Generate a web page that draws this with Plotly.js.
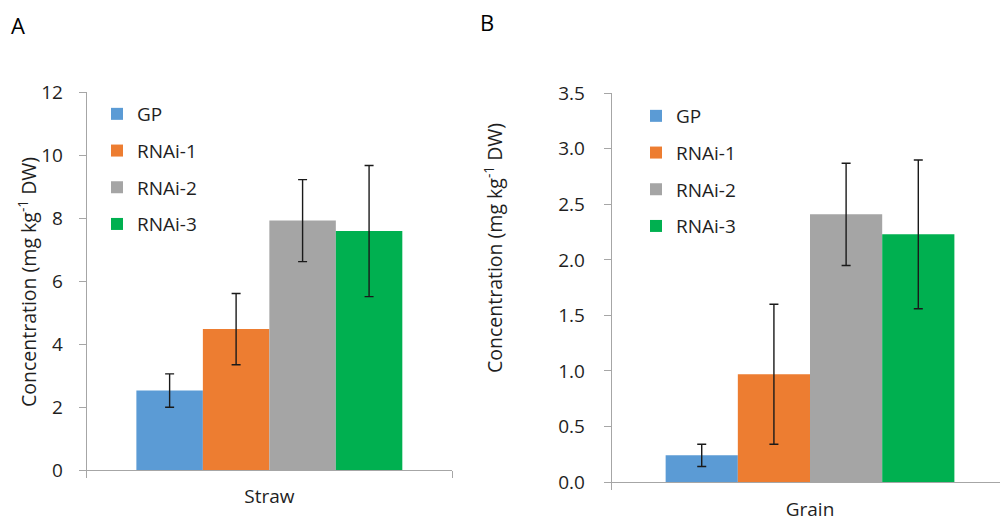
<!DOCTYPE html>
<html>
<head>
<meta charset="utf-8">
<script src="https://cdn.plot.ly/plotly-3.0.1.min.js"></script>
<style>html,body{margin:0;padding:0;background:#fff;overflow:hidden}#chart{width:1000px;height:521px}</style>
</head>
<body>
<div id="chart"></div>
<script>
// ---- data ----
const seriesNames = ['GP', 'RNAi-1', 'RNAi-2', 'RNAi-3'];
const strawCategory = ['Straw'];
const grainCategory = ['Grain'];
const strawValues = [2.53, 4.48, 7.92, 7.59];
const strawErrors = [0.53, 1.13, 1.30, 2.08];
const grainValues = [0.24, 0.97, 2.41, 2.23];
const grainErrors = [0.10, 0.63, 0.46, 0.67];
const strawTicks = [0, 2, 4, 6, 8, 10, 12];
const grainTicks = [0, 0.5, 1.0, 1.5, 2.0, 2.5, 3.0, 3.5];

// ---- styles ----
const colors = ['#5B9BD5', '#ED7D31', '#A5A5A5', '#00B050'];
const FONT = '"Open Sans", Lato, sans-serif';
const TXT = '#1f1f1f';
const AXC = '#A6A6A6';

const traces = [];
seriesNames.forEach((name, i) => {
  traces.push({
    type: 'bar', name: name, x: strawCategory, y: [strawValues[i]],
    xaxis: 'x', yaxis: 'y', legend: 'legend', legendgroup: 'a' + i,
    marker: {color: colors[i], line: {width: 0}},
    error_y: {type: 'data', array: [strawErrors[i]], visible: true, color: '#1a1a1a', thickness: 1.4, width: 4.5},
    hoverinfo: 'y'
  });
});
seriesNames.forEach((name, i) => {
  traces.push({
    type: 'bar', name: name, x: grainCategory, y: [grainValues[i]],
    xaxis: 'x2', yaxis: 'y2', legend: 'legend2', legendgroup: 'b' + i,
    marker: {color: colors[i], line: {width: 0}},
    error_y: {type: 'data', array: [grainErrors[i]], visible: true, color: '#1a1a1a', thickness: 1.4, width: 4.5},
    hoverinfo: 'y'
  });
});

const W = 1000, H = 521;
const px = v => v / W;
const py = v => 1 - v / H;

const yTitle = 'Concentration (mg kg<sup>-1</sup> DW)';

const xCommon = {
  type: 'category', showline: true, linecolor: AXC, linewidth: 1,
  ticks: 'outside', tickson: 'boundaries', ticklen: 7, tickcolor: AXC, tickwidth: 1,
  showgrid: false, zeroline: false, fixedrange: true,
  tickfont: {family: FONT, size: 19, color: TXT}
};
const yCommon = {
  showline: true, linecolor: AXC, linewidth: 1,
  ticks: 'outside', ticklen: 7, tickcolor: AXC, tickwidth: 1,
  showgrid: false, zeroline: false, fixedrange: true,
  tickfont: {family: FONT, size: 19, color: TXT}
};

const legendCommon = {
  font: {family: FONT, size: 19, color: TXT},
  bgcolor: 'rgba(0,0,0,0)', borderwidth: 0,
  xanchor: 'left', yanchor: 'top', tracegroupgap: 9,
  traceorder: 'grouped', itemclick: false, itemdoubleclick: false
};

const layout = {
  width: W, height: H,
  margin: {l: 0, r: 0, t: 0, b: 0},
  paper_bgcolor: '#fff', plot_bgcolor: '#fff',
  font: {family: FONT, color: TXT},
  barmode: 'group', bargap: 0.272, bargroupgap: 0,
  showlegend: true,
  xaxis: Object.assign({}, xCommon, {domain: [px(86.7), px(452)], range: [-0.5, 0.5], anchor: 'y', ticklabelstandoff: 9}),
  yaxis: Object.assign({}, yCommon, {domain: [py(470.3), py(92)], range: [0, 12], tickvals: strawTicks, ticktext: strawTicks.map(String), anchor: 'x', ticklabelstandoff: 12}),
  xaxis2: Object.assign({}, xCommon, {domain: [px(611.7), 1], range: [-0.5, 0.479], anchor: 'y2', ticklabelstandoff: 10}),
  yaxis2: Object.assign({}, yCommon, {domain: [py(482), py(93.3)], range: [0, 3.5], tickvals: grainTicks, ticktext: grainTicks.map(v => v.toFixed(1)), anchor: 'x2', ticklabelstandoff: 15}),
  legend: Object.assign({}, legendCommon, {x: px(97), y: py(95)}),
  legend2: Object.assign({}, legendCommon, {x: px(636), y: py(97)}),
  annotations: [
    {text: 'A', xref: 'paper', yref: 'paper', x: px(18), y: py(25), xanchor: 'center', yanchor: 'middle', showarrow: false, font: {family: FONT, size: 22, color: '#000'}},
    {text: 'B', xref: 'paper', yref: 'paper', x: px(487), y: py(22), xanchor: 'center', yanchor: 'middle', showarrow: false, font: {family: FONT, size: 22, color: '#000'}},
    {text: yTitle, xref: 'paper', yref: 'paper', x: px(27), y: py(282), xanchor: 'center', yanchor: 'middle', textangle: -90, showarrow: false, font: {family: FONT, size: 19.5, color: TXT}},
    {text: yTitle, xref: 'paper', yref: 'paper', x: px(493), y: py(248), xanchor: 'center', yanchor: 'middle', textangle: -90, showarrow: false, font: {family: FONT, size: 19.5, color: TXT}}
  ]
};

Plotly.newPlot('chart', traces, layout, {displayModeBar: false, staticPlot: true});
</script>
</body>
</html>
